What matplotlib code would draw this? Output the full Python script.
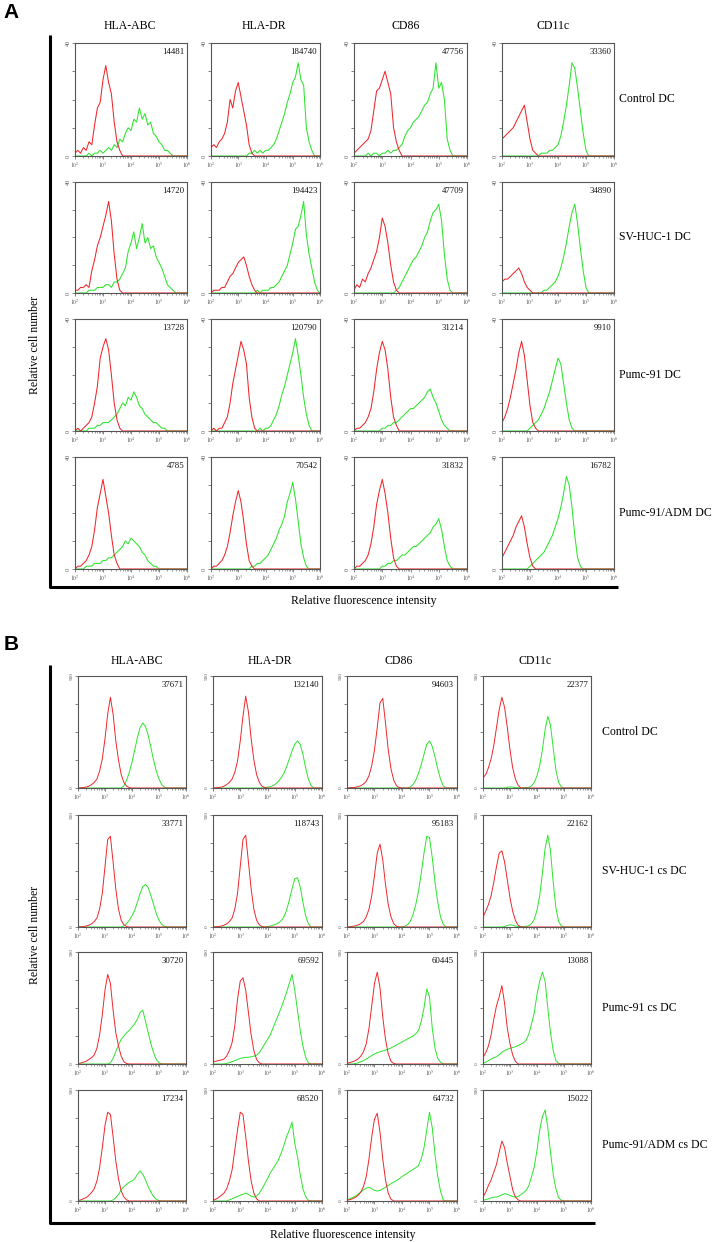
import matplotlib
matplotlib.use('Agg')
import matplotlib.pyplot as plt
import numpy as np
from matplotlib.lines import Line2D
from matplotlib.ticker import FixedLocator, LogLocator, NullFormatter

plt.rcParams['font.family'] = ['Liberation Serif', 'DejaVu Serif']
plt.rcParams['mathtext.fontset'] = 'stix'

W, H = 712, 1242

# ---------------- data ----------------
LOG_X = [2.0, 2.1, 2.2, 2.3, 2.4, 2.5, 2.6, 2.7, 2.8, 2.9,
         3.0, 3.1, 3.2, 3.3, 3.4, 3.5, 3.6, 3.7, 3.8, 3.9,
         4.0, 4.1, 4.2, 4.3, 4.4, 4.5, 4.6, 4.7, 4.8, 4.9,
         5.0, 5.1, 5.2, 5.3, 5.4, 5.5, 5.6, 5.7, 5.8, 5.9, 6.0]
X_TICKS = [2, 3, 4, 5, 6]
X_TICK_LABELS = ['$10^2$', '$10^3$', '$10^4$', '$10^5$', '$10^6$']

MARKERS = ['HLA-ABC', 'HLA-DR', 'CD86', 'CD11c']
A_ROWS = ['Control DC', 'SV-HUC-1 DC', 'Pumc-91 DC', 'Pumc-91/ADM DC']
B_ROWS = ['Control DC', 'SV-HUC-1 cs DC', 'Pumc-91 cs DC', 'Pumc-91/ADM cs DC']

A_MFI = [[14481, 184740, 47756, 33360],
         [14720, 194423, 47709, 34890],
         [13728, 120790, 31214, 9910],
         [4785, 70542, 31832, 16782]]
B_MFI = [[37671, 132140, 94603, 22377],
         [33771, 118743, 95183, 22162],
         [30720, 69592, 60445, 13088],
         [17234, 68520, 64732, 15022]]
A_YMAX = 40
B_YMAX = 500

# Panel A (counts, 0-40), one list per row, isotype = red, marker = green
A_ABC_RED = [
    [1, 2, 1, 3, 2, 5, 4, 11, 17, 19, 27, 32, 26, 22, 12, 5, 2, 0],
    [1, 1, 2, 2, 3, 2, 8, 12, 17, 20, 24, 28, 33, 26, 14, 5, 1, 0],
    [0, 1, 0, 1, 2, 3, 5, 10, 16, 26, 30, 33, 29, 20, 10, 4, 1, 0],
    [0, 1, 1, 2, 3, 5, 8, 14, 22, 27, 32, 26, 20, 12, 5, 2, 0]]
A_ABC_GREEN = [
    [0, 0, 0, 0, 0, 1, 0, 1, 1, 2, 1, 2, 3, 2, 4, 3, 6, 5, 8, 10, 9, 13, 12, 17, 13, 15, 11, 12, 8, 7, 5, 4, 2, 2, 1, 0],
    [0, 0, 0, 0, 0, 1, 1, 1, 2, 2, 2, 3, 3, 2, 4, 4, 5, 7, 9, 15, 18, 22, 16, 20, 25, 18, 20, 16, 17, 13, 11, 9, 6, 3, 2, 1, 0],
    [0, 0, 0, 0, 0, 1, 1, 1, 2, 2, 3, 3, 3, 4, 5, 6, 8, 10, 9, 12, 11, 14, 12, 9, 8, 6, 5, 4, 3, 3, 2, 1, 1, 0],
    [0, 0, 0, 0, 1, 1, 1, 2, 2, 2, 3, 3, 4, 4, 5, 6, 7, 8, 10, 9, 11, 10, 9, 8, 6, 5, 3, 2, 1, 1, 0]]
A_DR_RED = [
    [3, 4, 3, 5, 6, 8, 12, 20, 17, 23, 26, 21, 16, 11, 4, 1, 0],
    [0, 1, 1, 1, 2, 2, 4, 6, 7, 9, 11, 12, 13, 10, 6, 3, 1, 0],
    [0, 1, 0, 1, 1, 3, 5, 10, 17, 22, 27, 32, 29, 24, 12, 5, 1, 0],
    [0, 1, 1, 2, 3, 5, 8, 13, 19, 24, 28, 24, 17, 9, 3, 1, 0]]
A_DR_GREEN = [
    [0, 0, 0, 0, 0, 0, 0, 0, 0, 0, 0, 0, 0, 0, 1, 1, 2, 1, 2, 1, 2, 2, 3, 4, 6, 9, 12, 15, 19, 22, 26, 28, 33, 27, 25, 10, 5, 2, 0],
    [0, 0, 0, 0, 0, 0, 0, 0, 0, 0, 0, 0, 0, 0, 0, 0, 0, 1, 0, 1, 1, 1, 2, 2, 3, 4, 6, 8, 10, 14, 18, 23, 24, 28, 33, 21, 14, 9, 4, 1, 0],
    [0, 0, 0, 0, 0, 0, 0, 0, 0, 0, 0, 0, 0, 0, 0, 0, 0, 0, 1, 0, 1, 1, 2, 4, 6, 9, 13, 16, 20, 24, 28, 33, 27, 20, 12, 6, 2, 0],
    [0, 0, 0, 0, 0, 0, 0, 0, 0, 0, 0, 0, 0, 0, 0, 1, 1, 2, 2, 3, 4, 5, 7, 9, 11, 14, 16, 19, 24, 27, 31, 25, 17, 9, 4, 1, 0]]
A_CD86_RED = [
    [1, 2, 3, 4, 5, 6, 9, 16, 23, 24, 27, 30, 26, 22, 10, 5, 2, 0],
    [1, 3, 2, 5, 4, 7, 9, 12, 15, 20, 27, 24, 18, 10, 4, 1, 0],
    [0, 1, 1, 2, 3, 5, 8, 14, 22, 28, 32, 29, 22, 12, 5, 2, 0],
    [0, 1, 1, 2, 3, 5, 9, 15, 23, 28, 32, 27, 20, 11, 4, 1, 0]]
A_CD86_GREEN = [
    [0, 0, 0, 0, 0, 1, 0, 1, 1, 0, 1, 1, 2, 1, 2, 2, 3, 4, 7, 9, 10, 12, 13, 14, 16, 18, 19, 22, 24, 33, 24, 26, 20, 6, 2, 0],
    [0, 0, 0, 0, 0, 0, 0, 0, 0, 0, 0, 0, 0, 0, 0, 1, 2, 4, 6, 8, 10, 12, 13, 15, 17, 20, 22, 26, 29, 30, 32, 26, 14, 5, 1, 0],
    [0, 0, 0, 0, 0, 0, 0, 0, 0, 0, 1, 1, 2, 2, 3, 3, 4, 5, 6, 7, 8, 8, 9, 10, 11, 12, 14, 15, 12, 10, 7, 4, 2, 1, 0],
    [0, 0, 0, 0, 0, 0, 0, 0, 0, 0, 1, 1, 2, 2, 3, 3, 4, 5, 5, 6, 7, 8, 8, 9, 10, 11, 12, 13, 15, 16, 18, 14, 8, 3, 1, 0]]
A_CD11C_RED = [
    [6, 7, 8, 9, 10, 12, 14, 16, 18, 12, 6, 2, 1, 0],
    [4, 5, 5, 6, 7, 8, 9, 7, 4, 2, 1, 0],
    [3, 5, 8, 12, 17, 22, 28, 32, 27, 18, 9, 3, 1, 0],
    [4, 6, 8, 10, 12, 15, 17, 19, 15, 9, 4, 1, 0]]
A_CD11C_GREEN = [
    [0, 0, 0, 0, 0, 0, 0, 0, 0, 0, 0, 0, 0, 0, 1, 1, 1, 2, 2, 3, 4, 7, 12, 18, 25, 33, 31, 24, 16, 8, 2, 0],
    [0, 0, 0, 0, 0, 0, 0, 0, 0, 0, 0, 0, 0, 0, 0, 1, 1, 2, 3, 4, 6, 9, 13, 18, 24, 29, 32, 25, 16, 8, 2, 0],
    [0, 0, 0, 0, 0, 0, 0, 0, 0, 0, 1, 2, 3, 4, 6, 8, 11, 14, 18, 22, 26, 24, 17, 10, 4, 1, 0],
    [0, 0, 0, 0, 0, 0, 0, 0, 0, 0, 1, 2, 3, 4, 5, 6, 8, 10, 12, 15, 18, 22, 27, 33, 30, 22, 12, 4, 1, 0]]

# Panel B (counts, 0-500)
B_ABC_RED = [
    [0, 1, 2, 4, 8, 15, 25, 40, 75, 130, 220, 330, 405, 330, 210, 125, 60, 25, 8, 2, 0],
    [0, 1, 2, 4, 8, 14, 24, 40, 80, 150, 270, 390, 405, 290, 170, 80, 30, 10, 2, 0],
    [2, 4, 8, 12, 20, 28, 40, 70, 130, 220, 330, 400, 360, 240, 140, 80, 35, 10, 2, 0],
    [2, 5, 10, 15, 25, 38, 55, 90, 150, 240, 340, 400, 390, 290, 180, 100, 45, 18, 5, 0]]
B_ABC_GREEN = [
    [0, 0, 0, 0, 0, 0, 0, 0, 0, 0, 0, 0, 0, 0, 0, 0, 0, 10, 35, 70, 115, 170, 225, 270, 290, 275, 235, 180, 125, 75, 40, 15, 4, 0],
    [0, 0, 0, 0, 0, 0, 0, 0, 0, 0, 0, 0, 0, 0, 0, 0, 0, 5, 15, 30, 50, 75, 110, 150, 180, 190, 175, 140, 100, 60, 30, 12, 3, 0],
    [0, 0, 0, 0, 0, 0, 0, 0, 0, 0, 0, 0, 5, 25, 55, 85, 110, 125, 140, 150, 165, 180, 200, 230, 240, 190, 140, 90, 50, 20, 6, 0],
    [0, 0, 0, 0, 0, 0, 0, 0, 0, 0, 0, 0, 0, 5, 15, 30, 50, 65, 75, 85, 90, 100, 120, 135, 120, 95, 65, 40, 20, 8, 2, 0]]
B_DR_RED = [
    [0, 1, 2, 4, 8, 15, 25, 40, 70, 120, 210, 320, 410, 340, 220, 125, 60, 25, 8, 2, 0],
    [0, 1, 2, 4, 8, 14, 24, 40, 80, 150, 270, 390, 410, 290, 170, 80, 30, 10, 2, 0],
    [10, 12, 15, 18, 22, 35, 60, 95, 170, 290, 370, 385, 330, 230, 130, 60, 20, 5, 0],
    [3, 8, 15, 25, 35, 55, 90, 140, 230, 320, 400, 390, 290, 180, 90, 35, 10, 0]]
B_DR_GREEN = [
    [0, 0, 0, 0, 0, 0, 0, 0, 0, 0, 0, 0, 0, 0, 0, 0, 0, 0, 0, 2, 4, 6, 10, 18, 30, 45, 65, 95, 130, 165, 195, 210, 195, 150, 90, 40, 10, 0],
    [0, 0, 0, 0, 0, 0, 0, 0, 0, 0, 0, 0, 0, 0, 0, 0, 0, 0, 0, 0, 2, 4, 8, 12, 18, 28, 45, 75, 120, 170, 215, 220, 180, 110, 50, 15, 0],
    [0, 0, 0, 0, 0, 3, 6, 10, 15, 20, 25, 28, 30, 30, 32, 35, 40, 50, 70, 90, 110, 130, 160, 190, 220, 250, 285, 320, 360, 400, 330, 240, 150, 80, 30, 5, 0],
    [0, 0, 0, 0, 0, 0, 5, 10, 15, 20, 26, 30, 36, 30, 22, 18, 22, 35, 55, 78, 100, 125, 145, 165, 185, 215, 250, 290, 320, 355, 260, 200, 120, 55, 20, 3, 0]]
B_CD86_RED = [
    [0, 1, 2, 3, 6, 10, 18, 30, 55, 100, 170, 270, 380, 400, 290, 170, 85, 35, 10, 2, 0],
    [0, 1, 3, 5, 9, 15, 25, 45, 80, 140, 230, 330, 370, 300, 190, 100, 45, 15, 3, 0],
    [3, 6, 10, 15, 22, 35, 55, 90, 160, 260, 360, 410, 340, 210, 110, 45, 12, 2, 0],
    [3, 6, 10, 16, 25, 40, 65, 110, 190, 290, 370, 395, 310, 190, 95, 35, 8, 0]]
B_CD86_GREEN = [
    [0, 0, 0, 0, 0, 0, 0, 0, 0, 0, 0, 0, 0, 0, 0, 0, 0, 0, 0, 0, 0, 0, 0, 5, 15, 35, 65, 105, 150, 195, 210, 185, 140, 85, 40, 10, 0],
    [0, 0, 0, 0, 0, 0, 0, 0, 0, 0, 0, 0, 0, 0, 0, 0, 0, 0, 0, 0, 0, 3, 10, 25, 55, 100, 160, 240, 330, 405, 400, 310, 200, 110, 45, 12, 0],
    [0, 0, 0, 2, 5, 10, 15, 22, 30, 38, 45, 50, 55, 58, 62, 66, 72, 78, 85, 92, 98, 105, 112, 118, 125, 135, 150, 190, 250, 335, 300, 160, 70, 25, 8, 0],
    [5, 10, 15, 22, 30, 40, 50, 58, 62, 55, 48, 45, 48, 55, 62, 70, 78, 85, 92, 100, 110, 118, 125, 135, 142, 150, 160, 190, 240, 320, 400, 330, 210, 110, 45, 5, 0]]
B_CD11C_RED = [
    [45, 60, 90, 130, 190, 270, 350, 405, 360, 270, 170, 90, 40, 12, 0],
    [45, 70, 100, 140, 200, 270, 330, 340, 290, 210, 130, 70, 30, 8, 0],
    [30, 50, 80, 130, 200, 260, 300, 350, 270, 160, 90, 40, 12, 0],
    [18, 40, 70, 95, 130, 165, 220, 270, 240, 170, 110, 50, 18, 5, 0]]
B_CD11C_GREEN = [
    [0, 0, 0, 0, 0, 0, 0, 0, 0, 3, 5, 4, 2, 1, 0, 1, 2, 3, 10, 25, 55, 100, 170, 260, 320, 280, 180, 80, 25, 5, 0],
    [0, 0, 0, 0, 0, 0, 0, 0, 2, 6, 10, 8, 4, 2, 1, 2, 3, 6, 15, 35, 75, 140, 240, 350, 410, 340, 200, 85, 25, 5, 0],
    [3, 8, 15, 22, 28, 33, 42, 52, 60, 65, 70, 74, 77, 82, 88, 95, 107, 135, 180, 230, 310, 370, 410, 370, 250, 140, 60, 15, 3, 0],
    [3, 6, 10, 14, 17, 18, 22, 28, 33, 30, 25, 20, 18, 20, 28, 38, 48, 70, 110, 155, 230, 320, 380, 410, 330, 220, 120, 55, 15, 3, 0]]

A_RED = [A_ABC_RED, A_DR_RED, A_CD86_RED, A_CD11C_RED]
A_GREEN = [A_ABC_GREEN, A_DR_GREEN, A_CD86_GREEN, A_CD11C_GREEN]
B_RED = [B_ABC_RED, B_DR_RED, B_CD86_RED, B_CD11C_RED]
B_GREEN = [B_ABC_GREEN, B_DR_GREEN, B_CD86_GREEN, B_CD11C_GREEN]

# ---------------- layout (pixels) ----------------
A_COLS = [(75, 187), (211, 320), (354, 467), (502, 614)]
A_ROWS_Y = [(43, 156), (182, 293), (319, 431), (457, 569)]
B_COLS = [(78, 186), (213, 322), (347, 457), (483, 591)]
B_ROWS_Y = [(676, 788), (815, 927), (952, 1064), (1090, 1201)]

RED = '#f0262a'
GREEN = '#2be52b'
SPINE = '#555555'

fig = plt.figure(figsize=(W / 100, H / 100), dpi=100)
fig.patch.set_facecolor('white')


def pad(v):
    return list(v) + [0] * (len(LOG_X) - len(v))


def make_axes(x0, x1, y0, y1):
    return fig.add_axes([x0 / W, 1 - y1 / H, (x1 - x0) / W, (y1 - y0) / H])


def draw_panel(cols, rows_y, reds, greens, mfi, ymax, yfs, lw):
    xv = np.power(10.0, np.array(LOG_X))
    for r, (y0, y1) in enumerate(rows_y):
        for c, (x0, x1) in enumerate(cols):
            ax = make_axes(x0, x1, y0, y1)
            ax.plot(xv, pad(greens[c][r]), color=GREEN, lw=lw)
            ax.plot(xv, pad(reds[c][r]), color=RED, lw=lw)
            ax.set_xscale('log')
            ax.set_xlim(1e2, 1e6)
            ax.set_ylim(0, ymax)
            ax.xaxis.set_major_locator(FixedLocator([10.0 ** t for t in X_TICKS]))
            ax.set_xticklabels(X_TICK_LABELS)
            ax.xaxis.set_minor_locator(LogLocator(base=10, subs=np.arange(2, 10)))
            ax.xaxis.set_minor_formatter(NullFormatter())
            ax.set_yticks(np.linspace(0, ymax, 5))
            ax.set_yticklabels(['0', '', '', '', str(ymax)], rotation=90, va='center')
            ax.tick_params(axis='x', which='major', length=2.0, width=0.5, pad=1.0,
                           labelsize=4, colors=SPINE)
            ax.tick_params(axis='x', which='minor', length=1.2, width=0.4, colors=SPINE)
            ax.tick_params(axis='y', which='major', length=2.0, width=0.5, pad=1.0,
                           labelsize=yfs, colors=SPINE)
            for s in ax.spines.values():
                s.set_color(SPINE)
                s.set_linewidth(0.8)
            ax.text(0.975, 0.955, str(mfi[r][c]), transform=ax.transAxes,
                    ha='right', va='top', fontsize=6.3, color='#111111')


def ftext(x, y, s, **kw):
    fig.text(x / W, 1 - y / H, s, **kw)


def fline(xs, ys, lw=2.2):
    fig.add_artist(Line2D([v / W for v in xs], [1 - v / H for v in ys],
                          color='black', lw=lw, solid_capstyle='butt'))


draw_panel(A_COLS, A_ROWS_Y, A_RED, A_GREEN, A_MFI, A_YMAX, 4.5, 0.75)
draw_panel(B_COLS, B_ROWS_Y, B_RED, B_GREEN, B_MFI, B_YMAX, 3.8, 0.7)

# panel letters
ftext(11, 13, 'A', fontsize=15, fontweight='bold', family='Liberation Sans', ha='center', va='center')
ftext(11, 645, 'B', fontsize=15, fontweight='bold', family='Liberation Sans', ha='center', va='center')

# column titles
for name, xc in zip(MARKERS, [130, 264, 406, 553]):
    ftext(xc, 26, name, fontsize=8.5, ha='center', va='center')
for name, xc in zip(MARKERS, [137, 270, 399, 535]):
    ftext(xc, 661, name, fontsize=8.5, ha='center', va='center')

# row labels
for name, (y0, y1) in zip(A_ROWS, A_ROWS_Y):
    ftext(619, (y0 + y1) / 2, name, fontsize=8.5, ha='left', va='center')
for name, (y0, y1) in zip(B_ROWS, B_ROWS_Y):
    ftext(602, (y0 + y1) / 2, name, fontsize=8.5, ha='left', va='center')

# frames
fline([50, 50, 618], [35, 587, 587])
fline([50, 50, 595], [665, 1223, 1223])

# axis titles
ftext(364, 601, 'Relative fluorescence intensity', fontsize=8.5, ha='center', va='center')
ftext(343, 1235, 'Relative fluorescence intensity', fontsize=8.5, ha='center', va='center')
ftext(35, 345, 'Relative cell number', fontsize=8.5, ha='center', va='center', rotation=90)
ftext(35, 935, 'Relative cell number', fontsize=8.5, ha='center', va='center', rotation=90)

fig.savefig('out.png', dpi=100, facecolor='white')
